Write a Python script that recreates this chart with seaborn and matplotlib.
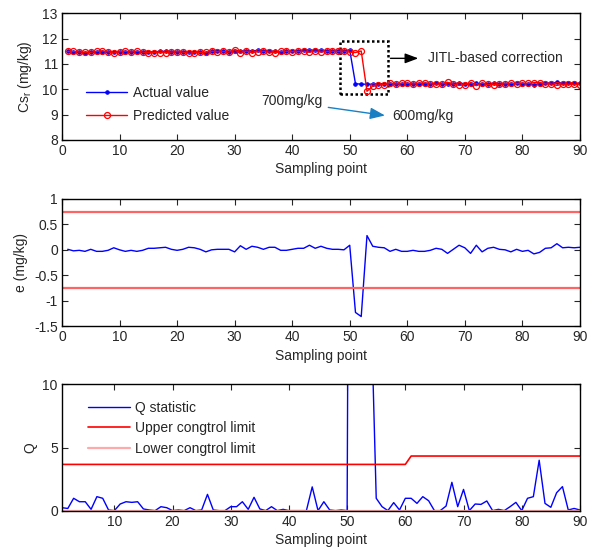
import numpy as np
import pandas as pd
import matplotlib
matplotlib.use("Agg")
import matplotlib.pyplot as plt
import seaborn as sns

# ---- data -------------------------------------------------------------
samples = list(range(1, 91))

actual_value = [
    11.50, 11.47, 11.46, 11.43, 11.47, 11.46, 11.48, 11.47, 11.47, 11.48,
    11.47, 11.46, 11.47, 11.46, 11.47, 11.48, 11.49, 11.50, 11.48, 11.47,
    11.48, 11.47, 11.48, 11.47, 11.42, 11.50, 11.49, 11.50, 11.47, 11.52,
    11.50, 11.52, 11.52, 11.53, 11.51, 11.52, 11.49, 11.48, 11.49, 11.49,
    11.52, 11.53, 11.55, 11.53, 11.54, 11.52, 11.51, 11.50, 11.51, 11.55,
    10.22, 10.20, 10.20, 10.20, 10.22, 10.22, 10.21, 10.22, 10.20, 10.21,
    10.20, 10.21, 10.22, 10.21, 10.23, 10.22, 10.20, 10.22, 10.24, 10.22,
    10.19, 10.23, 10.20, 10.22, 10.23, 10.21, 10.22, 10.20, 10.23, 10.21,
    10.22, 10.18, 10.21, 10.24, 10.25, 10.27, 10.24, 10.25, 10.24, 10.23,
]

prediction_error = [
    0.01, -0.02, -0.01, -0.03, 0.01, -0.03, -0.03, -0.01, 0.04, 0.00,
    -0.03, -0.01, -0.03, -0.01, 0.03, 0.03, 0.04, 0.05, 0.01, -0.01,
    0.01, 0.05, 0.04, 0.01, -0.04, 0.00, 0.01, 0.01, 0.01, -0.04,
    0.08, 0.01, 0.07, 0.05, 0.01, 0.05, 0.05, -0.01, -0.01, 0.01,
    0.03, 0.03, 0.09, 0.03, 0.07, 0.03, 0.01, 0.01, 0.00, 0.09,
    -1.23, -1.31, 0.28, 0.07, 0.05, 0.04, -0.03, 0.01, -0.03, -0.03,
    -0.01, -0.03, -0.03, -0.01, 0.03, 0.01, -0.07, 0.01, 0.09, 0.04,
    -0.07, 0.09, -0.04, 0.03, 0.05, 0.01, 0.00, -0.04, 0.01, -0.03,
    -0.01, -0.08, -0.05, 0.03, 0.04, 0.12, 0.04, 0.05, 0.04, 0.05,
]

# predicted = actual - error
predicted_value = [a - e for a, e in zip(actual_value, prediction_error)]

error_limit = 0.75

q_statistic = [
    0.26, 0.20, 1.00, 0.73, 0.73, 0.13, 1.13, 1.00, 0.08, 0.03,
    0.55, 0.73, 0.68, 0.73, 0.16, 0.08, 0.03, 0.34, 0.26, 0.03,
    0.08, 0.03, 0.26, 0.03, 0.08, 1.31, 0.08, 0.03, 0.03, 0.34,
    0.34, 0.73, 0.13, 1.08, 0.16, 0.03, 0.34, 0.03, 0.13, 0.03,
    0.03, 0.03, 0.03, 1.90, 0.03, 0.73, 0.08, 0.03, 0.08, 0.03,
    110.0, 130.0, 40.0, 18.0, 1.00, 0.34, 0.03, 0.66, 0.08, 1.00,
    1.00, 0.60, 1.13, 0.81, 0.03, 0.03, 0.39, 2.26, 0.34, 1.70,
    0.03, 0.55, 0.52, 0.79, 0.03, 0.13, 0.03, 0.34, 0.68, 0.03,
    1.00, 1.13, 4.00, 0.60, 0.29, 1.44, 1.92, 0.08, 0.20, 0.08,
]

upper_limit = [3.67] * 60 + [4.33] * 30
lower_limit = [0.0] * 90

df = pd.DataFrame({
    "sample": samples,
    "actual": actual_value,
    "predicted": predicted_value,
    "error": prediction_error,
    "q": q_statistic,
    "ucl": upper_limit,
    "lcl": lower_limit,
})

# ---- style ------------------------------------------------------------
sns.set_style("ticks")
plt.rcParams["font.family"] = ["Liberation Sans", "DejaVu Sans"]
plt.rcParams["font.size"] = 10
plt.rcParams["axes.linewidth"] = 1.0
plt.rcParams["xtick.direction"] = "in"
plt.rcParams["ytick.direction"] = "in"
plt.rcParams["xtick.major.size"] = 4
plt.rcParams["ytick.major.size"] = 4
plt.rcParams["xtick.major.width"] = 0.8
plt.rcParams["ytick.major.width"] = 0.8

fig = plt.figure(figsize=(5.96, 5.51), dpi=100)
left, width = 0.104, 0.869
ax1 = fig.add_axes([left, 0.746, width, 0.230])
ax2 = fig.add_axes([left, 0.408, width, 0.231])
ax3 = fig.add_axes([left, 0.0726, width, 0.2304])

for ax in (ax1, ax2, ax3):
    ax.tick_params(top=True, right=True, labelsize=10, pad=3)
    for s in ax.spines.values():
        s.set_visible(True)
        s.set_color("black")

# ---- panel 1: actual vs predicted --------------------------------------
sns.lineplot(data=df, x="sample", y="actual", ax=ax1, color="blue", lw=1.0,
             marker=".", markersize=5, markeredgecolor="blue",
             label="Actual value")
sns.lineplot(data=df, x="sample", y="predicted", ax=ax1, color="red", lw=1.0,
             marker="o", markersize=4.3, markerfacecolor="none",
             markeredgecolor="red", markeredgewidth=0.9,
             label="Predicted value")
ax1.set_xlim(0, 90)
ax1.set_ylim(8, 13)
ax1.set_xticks(range(0, 91, 10))
ax1.set_yticks(range(8, 14))
ax1.set_xlabel("Sampling point", labelpad=3)
ax1.set_ylabel("Cs$_{\\mathregular{r}}$ (mg/kg)", labelpad=6)
ax1.legend(loc="center left", bbox_to_anchor=(0.035, 0.28), frameon=False,
           handlelength=3.0, handletextpad=0.4, labelspacing=0.6,
           fontsize=10, borderaxespad=0)

# correction window
ax1.add_patch(plt.Rectangle((48.3, 9.81), 8.3, 2.1, fill=False,
                            ls=(0, (1.0, 1.0)), lw=1.8, ec="black"))
ax1.annotate("", xy=(62.4, 11.22), xytext=(56.6, 11.22),
             arrowprops=dict(arrowstyle="-|>,head_length=0.8,head_width=0.3",
                             color="black", lw=1.0))
ax1.text(63.6, 11.22, "JITL-based correction", va="center", ha="left",
         fontsize=10)
ax1.text(34.6, 9.55, "700mg/kg", va="center", ha="left", fontsize=10)
ax1.annotate("", xy=(56.6, 8.95), xytext=(45.8, 9.3),
             arrowprops=dict(arrowstyle="-|>,head_length=0.9,head_width=0.35",
                             color="#1a80c4", lw=1.0))
ax1.text(57.4, 8.93, "600mg/kg", va="center", ha="left", fontsize=10)

# ---- panel 2: prediction error -----------------------------------------
sns.lineplot(data=df, x="sample", y="error", ax=ax2, color="blue", lw=1.0)
ax2.axhline(error_limit, color="#ff6464", lw=1.6)
ax2.axhline(-error_limit, color="#ff6464", lw=1.6)
ax2.set_xlim(0, 90)
ax2.set_ylim(-1.5, 1)
ax2.set_xticks(range(0, 91, 10))
ax2.set_yticks([-1.5, -1, -0.5, 0, 0.5, 1])
ax2.set_yticklabels(["-1.5", "-1", "-0.5", "0", "0.5", "1"])
ax2.set_xlabel("Sampling point", labelpad=3)
ax2.set_ylabel("e (mg/kg)")

# ---- panel 3: Q statistic ------------------------------------------------
sns.lineplot(data=df, x="sample", y="q", ax=ax3, color="blue", lw=1.0,
             label="Q statistic")
sns.lineplot(data=df, x="sample", y="ucl", ax=ax3, color="red", lw=1.2,
             label="Upper congtrol limit")
sns.lineplot(data=df, x="sample", y="lcl", ax=ax3, color="#ffaaaa", lw=1.6,
             label="Lower congtrol limit")
ax3.set_xlim(1, 90)
ax3.set_ylim(0, 10)
ax3.set_xticks(range(10, 91, 10))
ax3.set_yticks([0, 5, 10])
ax3.set_xlabel("Sampling point", labelpad=3)
ax3.set_ylabel("Q")
ax3.legend(loc="upper left", bbox_to_anchor=(0.04, 0.91), frameon=False,
           handlelength=3.0, handletextpad=0.4, labelspacing=0.45,
           fontsize=10, borderaxespad=0)

fig.savefig("out.png", dpi=100)
